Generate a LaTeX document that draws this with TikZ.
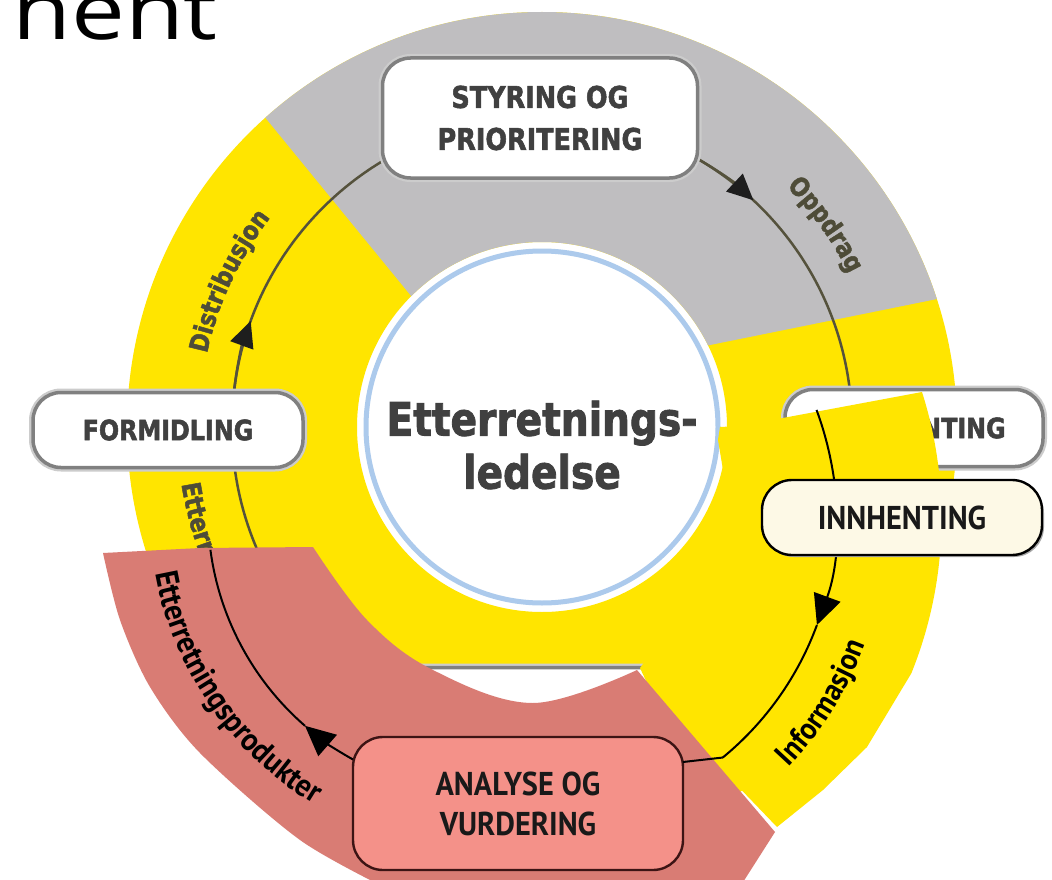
\documentclass[tikz,border=0pt]{standalone}
\usepackage{fontspec}
\usetikzlibrary{arrows.meta,decorations.text,calc}
\newfontfamily\capsfont[FakeStretch=0.92]{PT Sans}
\newfontfamily\bgfont[FakeStretch=0.85,FakeBold=1.8]{DejaVu Sans}
\newfontfamily\titlefont{Open Sans}

\definecolor{ringyellow}{RGB}{255,229,0}
\definecolor{ringgray}{RGB}{191,190,192}
\definecolor{circleblue}{RGB}{172,202,236}
\definecolor{bgline}{RGB}{85,82,60}
\definecolor{bgtip}{RGB}{30,30,30}
\definecolor{bgtext}{RGB}{64,64,64}
\definecolor{bglabel}{RGB}{78,76,56}
\definecolor{boxedge}{RGB}{128,128,128}
\definecolor{patchpink}{RGB}{217,124,116}
\definecolor{boxpink}{RGB}{244,145,137}
\definecolor{boxcream}{RGB}{253,249,230}
\definecolor{pinkedge}{RGB}{60,20,20}

\tikzset{
  bgbox/.style={draw=boxedge, line width=3.5pt, fill=white, rounded corners=28pt,
    preaction={draw=boxedge!40, line width=8pt}, text=bgtext, align=center},
  bgcap/.style={font=\bgfont\bfseries\fontsize{#1}{42}\selectfont},
  fgbox/.style={line width=2.4pt, rounded corners=30pt, align=center, text=black!90,
    font=\capsfont\bfseries\fontsize{33}{40}\selectfont},
  bgarc/.style={draw=bgline, line width=2.5pt},
  fgarc/.style={draw=black, line width=2pt},
  bgarrow/.style={-{Triangle[length=26pt,width=24pt,color=bgtip]}},
  fgarrow/.style={-{Triangle[length=30pt,width=28pt]}},
}

\begin{document}
\begin{tikzpicture}[x=1pt,y=-1pt]
\useasboundingbox (0,0) rectangle (1052,880);
\fill[white] (0,0) rectangle (1052,880);

% fragment of a slide title
\node[anchor=base west, inner sep=0pt, font=\titlefont\fontsize{80}{80}\selectfont]
  (title) at (12,40) {\scalebox{1.2}[1]{nent}};

% ---------- the cycle ring ----------
\coordinate (c0) at (542,427);
\fill[ringyellow, even odd rule] (c0) circle[radius=415] (c0) circle[radius=185];
\begin{scope}
  \clip (488,390) -- (120,-60) -- (1100,-60) -- (1100,266) -- cycle;
  \fill[ringgray, even odd rule] (c0) circle[radius=415] (c0) circle[radius=185];
\end{scope}
\draw[circleblue, line width=5pt] (c0) circle[radius=176];
\draw[bgarc] (c0) circle[radius=310];
\draw[bgarc, bgarrow] ($(c0)+(-62:310)$) arc[start angle=-62, end angle=-47, radius=310];
\draw[bgarc, bgarrow] ($(c0)+(185:310)$) arc[start angle=185, end angle=200, radius=310];

% ring labels
\path[decorate, decoration={text along path, text align=center, text color=bglabel,
  text={|\bgfont\bfseries\fontsize{26}{26}\selectfont|Oppdrag}}]
  ($(c0)+(-60:343)$) arc[start angle=-60, end angle=-11, radius=343];
\path[decorate, decoration={text along path, text align=center, text color=bglabel,
  text={|\bgfont\bfseries\fontsize{26}{26}\selectfont|Distribusjon}}]
  ($(c0)+(180:343)$) arc[start angle=180, end angle=230, radius=343];
\path[decorate, decoration={text along path, text align=left, text color=bglabel,
  text={|\bgfont\bfseries\fontsize{26}{26}\selectfont|Etterretningsprodukter}}]
  ($(c0)+(171:365)$) arc[start angle=171, end angle=100, radius=365];

% stage boxes
\node[bgbox, bgcap=30, minimum width=315pt, minimum height=120pt] (styr) at (540,118)
  {STYRING OG\\PRIORITERING};
\node[bgbox, bgcap=28, minimum width=270pt, minimum height=75pt] (form) at (168,430)
  {FORMIDLING};
\node[bgbox, minimum width=258pt, minimum height=77pt] (innbg) at (914,428) {};
\node[text=bgtext, font=\bgfont\bfseries\fontsize{28}{28}\selectfont] (innbgtext)
  at (921,428) {INNHENTING};
\node[bgbox, minimum width=300pt, minimum height=125pt] (analbg) at (540,730) {};

% centre
\node[text=bgtext, align=center, font=\bgfont\bfseries\fontsize{46}{53}\selectfont]
  (lead) at (542,445) {Etterretnings-\\ledelse};

% ---------- highlighted collection segment ----------
\coordinate (c1) at (526,518);
\fill[ringyellow] (718,440) -- (720,427) -- (740,426) -- (922,392)
  arc[start angle=-17.65, end angle=22, radius=415]
  -- (867,747) -- (823,790) -- (777,827) -- (655,700) -- (640,668)
  -- (690,600) -- (727,520) -- (723,470) -- cycle;
\coordinate (ytop) at ($(c1)+(-20.4:310)$);
\draw[fgarc, fgarrow] (ytop) arc[start angle=-20.4, end angle=20.2, radius=310];
\draw[fgarc] ($(c1)+(20.2:310)$) arc[start angle=20.2, end angle=50.6, radius=310]
  coordinate (yend);
\path[decorate, decoration={text along path, text align=center,
  text={|\capsfont\bfseries\fontsize{31}{31}\selectfont|Informasjon}}]
  ($(c1)+(50:362)$) arc[start angle=50, end angle=14, radius=362];

\fill[black!35, rounded corners=30pt] (764,483) rectangle (1044,557);
\node[fgbox, draw=black, fill=boxcream, minimum width=280pt, minimum height=75pt]
  (innh) at (902,517.5) {INNHENTING};

% ---------- highlighted analysis segment ----------
\coordinate (c2) at (490,513);
\fill[patchpink] (103,553) -- (200,548) -- (313,547)
  -- plot[smooth, tension=0.6] coordinates {(313,547) (367,620) (433,670) (533,703) (637,670)}
  -- (775,832) -- (738,890) -- (390,890)
  -- plot[smooth] coordinates {(390,890) (300,840) (200,753) (150,687) (120,620) (103,553)}
  -- cycle;
\coordinate (pbot) at ($(c2)+(119:282)$);
\draw[fgarc, fgarrow] (pbot) arc[start angle=119, end angle=131, radius=282];
\draw[fgarc] ($(c2)+(131:282)$) arc[start angle=131, end angle=172.5, radius=282];
\path[decorate, decoration={text along path, text align=center,
  text={|\capsfont\bfseries\fontsize{32}{32}\selectfont|Etterretningsprodukter}}]
  ($(c2)+(176:340)$) arc[start angle=176, end angle=115, radius=340];

\node[fgbox, draw=pinkedge, fill=boxpink, minimum width=330pt, minimum height=133pt]
  (anal) at (518,803.5) {ANALYSE OG\\VURDERING};
\coordinate (aj) at (683,762);
\draw[fgarc] (yend) -- (aj);
\end{tikzpicture}
\end{document}
